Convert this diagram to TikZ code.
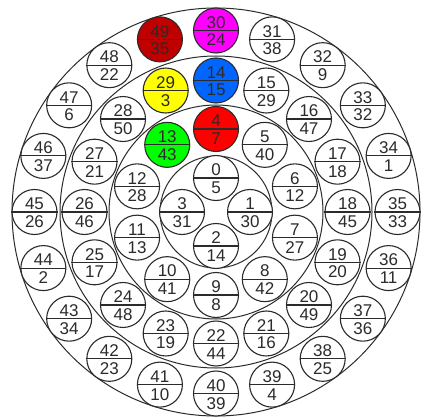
\documentclass[tikz,border=0pt]{standalone}
\usepackage{fontspec}
\setmainfont{Liberation Sans}
\definecolor{cdkred}{HTML}{C00000}
\definecolor{cmag}{HTML}{FF00FF}
\definecolor{cyel}{HTML}{FFFF00}
\definecolor{cblue}{HTML}{0066FF}
\definecolor{cred}{HTML}{FF0000}
\definecolor{cgreen}{HTML}{00FF00}
\definecolor{ink}{HTML}{2B2B2B}
\begin{document}
\begin{tikzpicture}[x=1pt,y=1pt,
  ring/.style={draw=ink, line width=1pt},
  cell/.style={circle, draw=ink, line width=1.1pt, minimum size=45pt, inner sep=0pt},
  divider/.style={draw=ink, line width=1.1pt},
  num/.style={font=\fontsize{17}{17}\selectfont, text=ink, inner sep=0pt, anchor=base}]
\useasboundingbox (0,0) rectangle (422,418);
\coordinate (O) at (216,206);
\draw[ring] (O) circle (204);
\draw[ring] (O) circle (156);
\draw[ring] (O) circle (107);
\draw[ring] (O) circle (56);
\newcommand\mkcell[5]{%
  \node[cell, fill=#5] (c#1) at ([shift={(#3:#4)}]O) {};
  \draw[divider] (c#1.west) -- (c#1.east);
  \node[num] (t#1) at ([yshift=2.2pt]c#1.center) {#1};
  \node[num] (b#1) at ([yshift=-15.5pt]c#1.center) {#2};
}
% inner
\foreach \t/\b/\f [count=\i from 0] in {0/5/white,1/30/white,2/14/white,3/31/white}{
  \pgfmathsetmacro\a{90-90*\i}
  \mkcell{\t}{\b}{\a}{34}{\f}
}
% ring B
\foreach \t/\b/\f [count=\i from 0] in {4/7/cred,5/40/white,6/12/white,7/27/white,8/42/white,9/8/white,10/41/white,11/13/white,12/28/white,13/43/cgreen}{
  \pgfmathsetmacro\a{90-36*\i}
  \mkcell{\t}{\b}{\a}{83}{\f}
}
% ring C
\foreach \t/\b/\f [count=\i from 0] in {14/15/cblue,15/29/white,16/47/white,17/18/white,18/45/white,19/20/white,20/49/white,21/16/white,22/44/white,23/19/white,24/48/white,25/17/white,26/46/white,27/21/white,28/50/white,29/3/cyel}{
  \pgfmathsetmacro\a{90-22.5*\i}
  \mkcell{\t}{\b}{\a}{131.5}{\f}
}
% ring D
\foreach \t/\b/\f [count=\i from 0] in {30/24/cmag,31/38/white,32/9/white,33/32/white,34/1/white,35/33/white,36/11/white,37/36/white,38/25/white,39/4/white,40/39/white,41/10/white,42/23/white,43/34/white,44/2/white,45/26/white,46/37/white,47/6/white,48/22/white,49/35/cdkred}{
  \pgfmathsetmacro\a{90-18*\i}
  \mkcell{\t}{\b}{\a}{181.5}{\f}
}
\end{tikzpicture}
\end{document}
